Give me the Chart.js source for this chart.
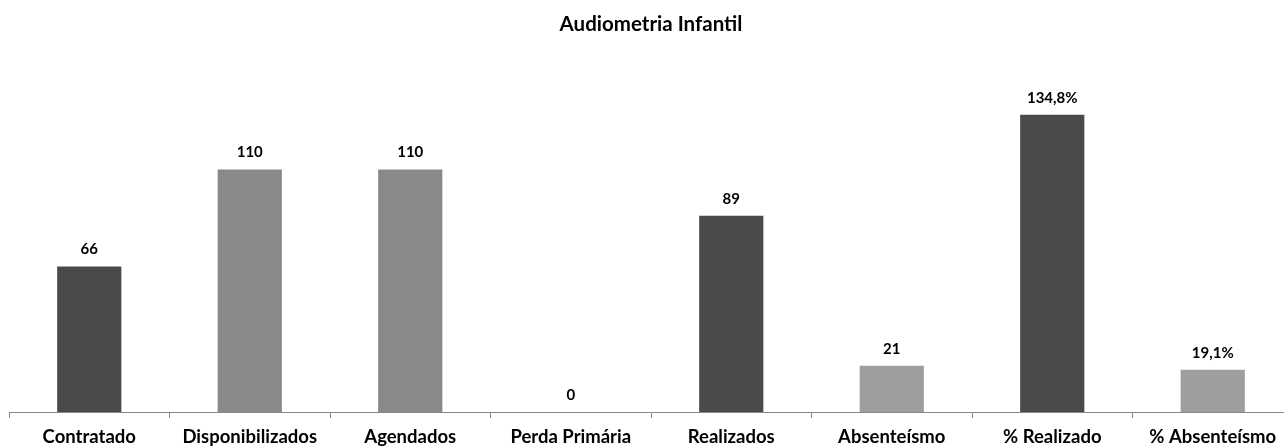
<!DOCTYPE html>
<html>
<head>
<meta charset="utf-8">
<script src="https://cdn.jsdelivr.net/npm/chart.js@4"></script>
<style>
html,body{margin:0;padding:0;background:#fff;overflow:hidden;}
#wrap{width:1300px;height:448px;}
</style>
</head>
<body>
<div id="wrap"><canvas id="c" width="1300" height="448"></canvas></div>
<script>
const categories = ["Contratado","Disponibilizados","Agendados","Perda Primária","Realizados","Absenteísmo","% Realizado","% Absenteísmo"];
const values = [66, 110, 110, 0, 89, 21, 134.8, 19.1];
const valueLabels = ["66","110","110","0","89","21","134,8%","19,1%"];
const barColors = ["#4a4a4a","#898989","#898989","#898989","#4a4a4a","#9e9e9e","#4a4a4a","#9e9e9e"];
const chartTitle = "Audiometria Infantil";
const FONT = "Lato, 'Liberation Sans', sans-serif";

const labelPlugin = {
  id: 'valueLabels',
  afterDatasetsDraw(chart) {
    const ctx = chart.ctx;
    const meta = chart.getDatasetMeta(0);
    ctx.save();
    ctx.font = "bold 15px " + FONT;
    ctx.fillStyle = "#000";
    ctx.textAlign = "center";
    ctx.textBaseline = "alphabetic";
    meta.data.forEach((bar, i) => {
      ctx.fillText(valueLabels[i], bar.x, bar.y - 12);
    });
    ctx.restore();
  }
};

new Chart(document.getElementById('c'), {
  type: 'bar',
  data: {
    labels: categories,
    datasets: [{
      data: values,
      backgroundColor: barColors,
      borderWidth: 0,
      barPercentage: 0.4,
      categoryPercentage: 1.0
    }]
  },
  options: {
    responsive: false,
    animation: false,
    layout: { padding: { left: 9, right: 7, top: 0, bottom: 0 } },
    plugins: {
      legend: { display: false },
      tooltip: { enabled: false },
      title: {
        display: true,
        text: chartTitle,
        color: "#000",
        font: { family: FONT, size: 20.5, weight: 'bold' },
        padding: { top: 12, bottom: 22.5 }
      }
    },
    scales: {
      x: {
        offset: true,
        afterFit(scale) { scale.height = 36; },
        grid: { display: true, drawOnChartArea: false, drawTicks: true, tickLength: 6, color: "#888", offset: true },
        border: { display: true, color: "#888", width: 1 },
        ticks: { color: "#000", font: { family: FONT, size: 18.5, weight: 'bold' }, padding: 8, maxRotation: 0, autoSkip: false }
      },
      y: {
        display: false,
        min: 0,
        max: 160
      }
    }
  },
  plugins: [labelPlugin]
});
</script>
</body>
</html>
